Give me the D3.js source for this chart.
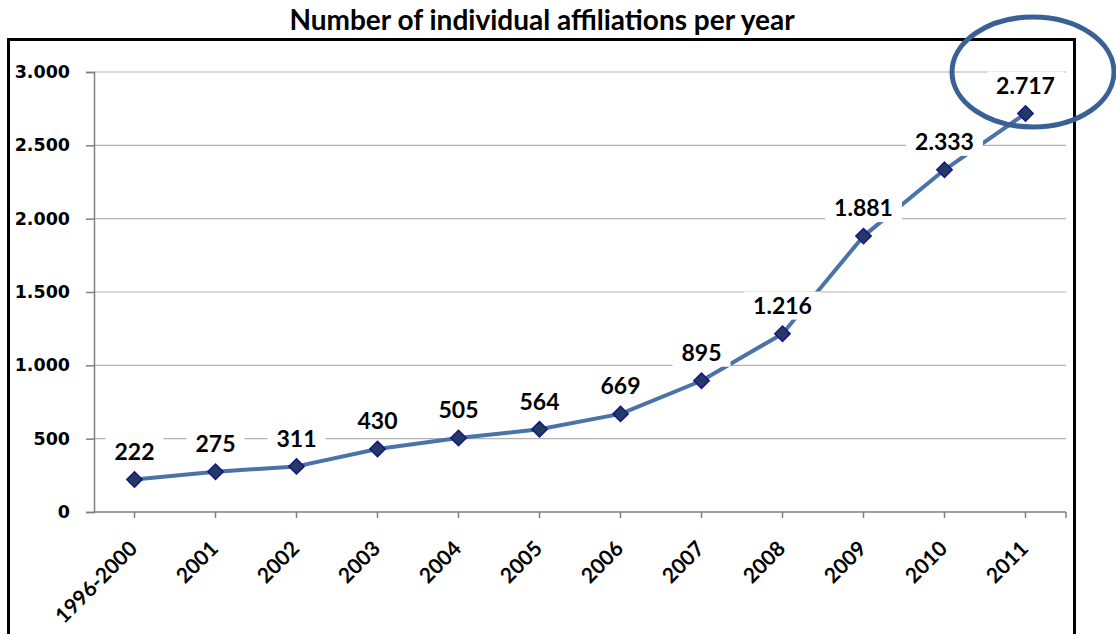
<!DOCTYPE html>
<html lang="en">
<head>
    <meta charset="UTF-8">
    <title>Number of individual affiliations per year</title>
    <style>
        body { margin: 0; background: #fff; overflow: hidden; }
        svg { display: block; }
    </style>
</head>
<body>
    <svg id="chart" width="1116" height="634"></svg>

    <script src="https://cdnjs.cloudflare.com/ajax/libs/d3/7.8.5/d3.min.js"></script>
    <script>
        // Chart data
        const years = ["1996-2000", "2001", "2002", "2003", "2004", "2005",
                       "2006", "2007", "2008", "2009", "2010", "2011"];
        const affiliations = [222, 275, 311, 430, 505, 564, 669, 895, 1216, 1881, 2333, 2717];
        const yTicks = [0, 500, 1000, 1500, 2000, 2500, 3000];

        const svg = d3.select("#chart");
        const fmt = d3.formatLocale({ decimal: ",", thousands: ".", grouping: [3], currency: ["", ""] }).format(",");

        // Plot area
        const plotLeft = 94, plotRight = 1066, plotTop = 72, plotBottom = 512;

        const x = d3.scaleBand().domain(years).range([plotLeft, plotRight]);
        const y = d3.scaleLinear().domain([0, 3000]).range([plotBottom, plotTop]);
        const cx = d => x(d) + x.bandwidth() / 2;

        // Outer frame
        svg.append("rect")
            .attr("x", 8.5).attr("y", 39.5)
            .attr("width", 1066).attr("height", 620)
            .attr("fill", "none")
            .attr("stroke", "#000")
            .attr("stroke-width", 3);

        // Title
        svg.append("text")
            .attr("x", 542).attr("y", 30)
            .attr("text-anchor", "middle")
            .style("font-family", "Lato, 'Open Sans', sans-serif")
            .style("font-weight", 700)
            .style("font-size", "28px")
            .text("Number of individual affiliations per year");

        // Gridlines
        svg.append("g")
            .selectAll("line")
            .data(yTicks.filter(d => d > 0))
            .join("line")
            .attr("x1", plotLeft).attr("x2", plotRight)
            .attr("y1", d => y(d)).attr("y2", d => y(d))
            .attr("stroke", "#b3b3b3")
            .attr("stroke-width", 1.2);

        // Y axis
        const yAxis = svg.append("g")
            .attr("transform", `translate(${plotLeft},0)`)
            .call(d3.axisLeft(y).tickValues(yTicks).tickFormat(fmt).tickSize(8).tickPadding(16));
        yAxis.select(".domain").attr("stroke", "#808080").attr("stroke-width", 1.5);
        yAxis.selectAll(".tick line").attr("stroke", "#808080").attr("stroke-width", 1.5);
        yAxis.selectAll(".tick text")
            .attr("fill", "#000")
            .style("font-family", "'DejaVu Sans', Verdana, sans-serif")
            .style("font-weight", 700)
            .style("font-size", "17.5px");

        // X axis: ticks under each point plus one at the far end
        const xAxisG = svg.append("g");
        xAxisG.append("line")
            .attr("x1", plotLeft).attr("x2", plotRight)
            .attr("y1", plotBottom).attr("y2", plotBottom)
            .attr("stroke", "#808080").attr("stroke-width", 1.5);
        xAxisG.selectAll(".xt")
            .data(years)
            .join("line")
            .attr("class", "xt")
            .attr("x1", d => cx(d)).attr("x2", d => cx(d))
            .attr("y1", plotBottom).attr("y2", plotBottom + 6)
            .attr("stroke", "#808080").attr("stroke-width", 1.5);
        xAxisG.append("line")
            .attr("x1", plotRight).attr("x2", plotRight)
            .attr("y1", plotBottom).attr("y2", plotBottom + 6)
            .attr("stroke", "#808080").attr("stroke-width", 1.5);
        xAxisG.selectAll("text")
            .data(years)
            .join("text")
            .attr("transform", d => `translate(${cx(d) + 4},${plotBottom + 38}) rotate(-45)`)
            .attr("text-anchor", "end")
            .style("font-family", "Lato, 'Open Sans', sans-serif")
            .style("font-weight", 700)
            .style("font-size", "21px")
            .text(d => d);

        // Line
        const line = d3.line()
            .x((d, i) => cx(years[i]))
            .y(d => y(d));
        svg.append("path")
            .datum(affiliations)
            .attr("d", line)
            .attr("fill", "none")
            .attr("stroke", "#4a74a8")
            .attr("stroke-width", 4)
            .attr("stroke-linejoin", "round");

        // Diamond markers
        const diamond = d3.symbol().type(d3.symbolDiamond2).size(150);
        svg.append("g")
            .selectAll("path")
            .data(affiliations)
            .join("path")
            .attr("d", diamond)
            .attr("transform", (d, i) => `translate(${cx(years[i])},${y(d)})`)
            .attr("fill", "#253a60")
            .attr("stroke", "#14148c")
            .attr("stroke-width", 1.5);

        // Data labels with white backgrounds
        const labels = svg.append("g")
            .selectAll("g")
            .data(affiliations)
            .join("g")
            .attr("transform", (d, i) => `translate(${cx(years[i])},${y(d) - 28})`);
        labels.append("text")
            .attr("text-anchor", "middle")
            .attr("dy", "0.36em")
            .style("font-family", "Lato, 'Open Sans', sans-serif")
            .style("font-weight", 700)
            .style("font-size", "23px")
            .text(d => fmt(d));
        labels.each(function() {
            const g = d3.select(this);
            const w = g.select("text").node().getComputedTextLength();
            g.insert("rect", "text")
                .attr("x", -w / 2 - 9).attr("y", -14)
                .attr("width", w + 18).attr("height", 28)
                .attr("fill", "#fff");
        });

        // Highlight ellipse around the last value
        svg.append("ellipse")
            .attr("cx", 1033).attr("cy", 72)
            .attr("rx", 81).attr("ry", 55)
            .attr("fill", "none")
            .attr("stroke", "#3a6193")
            .attr("stroke-width", 5);
    </script>
</body>
</html>
